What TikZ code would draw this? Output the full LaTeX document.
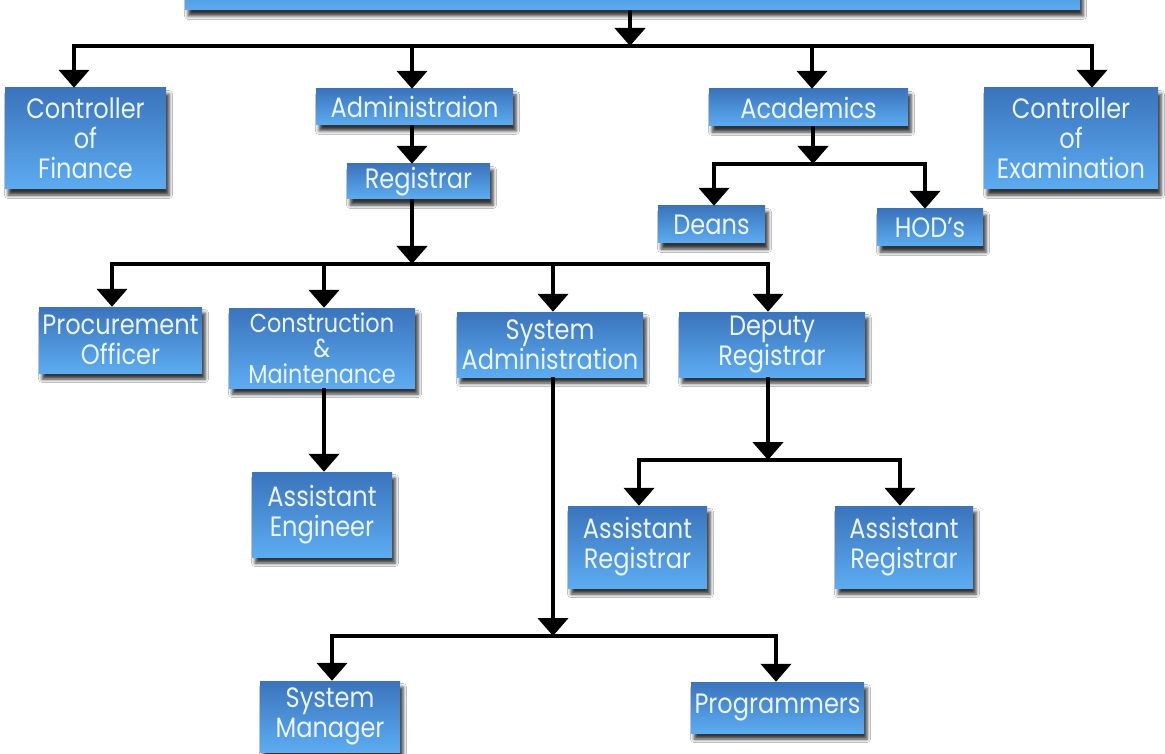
\documentclass[tikz,border=0pt]{standalone}
\usepackage{fontspec}
\setmainfont{Poppins}[FakeStretch=0.86]
\usetikzlibrary{arrows.meta,shadows.blur}
\definecolor{boxtop}{RGB}{58,116,188}
\definecolor{boxbot}{RGB}{92,172,242}
\definecolor{boxtext}{RGB}{236,244,252}
\tikzset{
  orgbox/.style={rectangle, inner sep=0pt, top color=boxtop, bottom color=boxbot,
    text=boxtext, align=center, font=\fontsize{28}{30}\selectfont,
    blur shadow={shadow xshift=3pt, shadow yshift=-6pt, shadow blur radius=3.5pt, shadow opacity=80}},
  arr/.style={line width=4.5pt, -{Triangle[width=30pt,length=18pt]}},
  bus/.style={line width=3.5pt, line cap=rect}
}
\begin{document}
\begin{tikzpicture}[x=1pt,y=-1pt]
\useasboundingbox (0,0) rectangle (1165,754);
\clip (0,0) rectangle (1165,754);
\fill[white] (0,0) rectangle (1165,754);
% boxes
\node[orgbox, minimum width=895pt, minimum height=50pt] (top) at (632.5,-15) {};
\node[orgbox, minimum width=161pt, minimum height=101pt] (cof) at (85.5,138.5) {Controller\\of\\Finance};
\node[orgbox, minimum width=197pt, minimum height=36pt] (adm) at (414.5,107) {Administraion};
\node[orgbox, minimum width=143pt, minimum height=35pt] (reg) at (418.5,181.5) {Registrar};
\node[orgbox, minimum width=199pt, minimum height=37pt] (aca) at (808.5,107.5) {Academics};
\node[orgbox, minimum width=174pt, minimum height=101pt] (coe) at (1071,138.5) {Controller\\of\\Examination};
\node[orgbox, minimum width=107pt, minimum height=37pt] (deans) at (711.5,224.5) {Deans};
\node[orgbox, minimum width=106pt, minimum height=37pt] (hod) at (930,227.5) {HOD’s};
\node[orgbox, minimum width=163pt, minimum height=66pt] (proc) at (120.5,340) {Procurement\\Officer};
\node[orgbox, minimum width=186pt, minimum height=80pt, font=\fontsize{26}{25.5}\selectfont] (cm) at (322,348) {Construction\\\&\\Maintenance};
\node[orgbox, minimum width=186pt, minimum height=65pt] (sa) at (550,344.5) {System\\Administration};
\node[orgbox, minimum width=186pt, minimum height=65pt] (dr) at (772,344.5) {Deputy\\Registrar};
\node[orgbox, minimum width=140pt, minimum height=85pt] (ae) at (322,514.5) {Assistant\\Engineer};
\node[orgbox, minimum width=139pt, minimum height=82pt] (ar1) at (637.5,547) {Assistant\\Registrar};
\node[orgbox, minimum width=138pt, minimum height=82pt] (ar2) at (904,547) {Assistant\\Registrar};
\node[orgbox, minimum width=140pt, minimum height=71pt] (sm) at (330,716.5) {System\\Manager};
\node[orgbox, minimum width=173pt, minimum height=51pt] (prog) at (777.5,707.5) {Programmers};
% junction coordinates
\coordinate (b0) at (630,46);
\coordinate (bL) at (74,46);
\coordinate (b1) at (412,46);
\coordinate (b2) at (812,46);
\coordinate (bR) at (1092,46);
\coordinate (r0) at (412,264);
\coordinate (rL) at (112,264);
\coordinate (r1) at (324,264);
\coordinate (r2) at (553,264);
\coordinate (rR) at (768,264);
\coordinate (a0) at (813,164);
\coordinate (aL) at (714,164);
\coordinate (aR) at (925,164);
\coordinate (d0) at (768,460);
\coordinate (dL) at (639,460);
\coordinate (dR) at (900,460);
\coordinate (s0) at (553,636);
\coordinate (sL) at (332,636);
\coordinate (sR) at (776,636);
% top level
\draw[arr] (top.south -| b0) -- (b0);
\draw[bus] (bL) -- (bR);
\draw[arr] (bL) -- (bL |- cof.north);
\draw[arr] (b1) -- (b1 |- adm.north);
\draw[arr] (b2) -- (b2 |- aca.north);
\draw[arr] (bR) -- (bR |- coe.north);
% administration
\draw[arr] (b1 |- adm.south) -- (b1 |- reg.north);
\draw[arr] (r0 |- reg.south) -- (r0);
\draw[bus] (rL) -- (rR);
\draw[arr] (rL) -- (rL |- proc.north);
\draw[arr] (r1) -- (r1 |- cm.north);
\draw[arr] (r2) -- (r2 |- sa.north);
\draw[arr] (rR) -- (rR |- dr.north);
% academics
\draw[arr] (a0 |- aca.south) -- (a0);
\draw[bus] (aL) -- (aR);
\draw[arr] (aL) -- (aL |- deans.north);
\draw[arr] (aR) -- (aR |- hod.north);
% construction
\draw[arr] (r1 |- cm.south) -- (r1 |- ae.north);
% deputy registrar
\draw[arr] (d0 |- dr.south) -- (d0);
\draw[bus] (dL) -- (dR);
\draw[arr] (dL) -- (dL |- ar1.north);
\draw[arr] (dR) -- (dR |- ar2.north);
% system administration
\draw[arr] (s0 |- sa.south) -- (s0);
\draw[bus] (sL) -- (sR);
\draw[arr] (sL) -- (sL |- sm.north);
\draw[arr] (sR) -- (sR |- prog.north);
\end{tikzpicture}
\end{document}
